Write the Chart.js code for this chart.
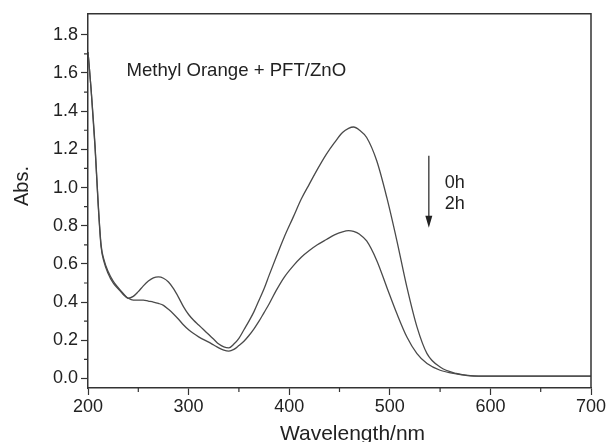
<!DOCTYPE html>
<html>
<head>
<meta charset="utf-8">
<script src="https://cdn.jsdelivr.net/npm/chart.js@4.4.0/dist/chart.umd.min.js"></script>
<style>
  html, body { margin: 0; padding: 0; background: #fff; }
  #wrap { width: 612px; height: 442px; }
</style>
</head>
<body>
<div id="wrap"><canvas id="uvChart"></canvas></div>
<script>
// wavelength grid (nm)
const wavelengths = [200, 203, 207, 210, 213, 216, 220, 225, 230, 235, 240, 245, 250, 255, 260, 265, 270, 275, 280,
  285, 290, 295, 300, 305, 310, 315, 320, 325, 330, 335, 340, 345, 350, 355, 360, 365, 370, 375, 380,
  387, 395, 404, 412, 420, 428, 437, 445, 453, 459, 464, 470, 477, 487, 497, 507, 517, 527, 537, 550,
  566, 580, 600, 650, 700];

// absorbance, 0h
const abs0h = [1.71, 1.52, 1.22, 0.93, 0.7, 0.62, 0.56, 0.51, 0.475, 0.445, 0.42, 0.43, 0.455, 0.485, 0.51, 0.527, 0.532, 0.525, 0.505,
  0.47, 0.425, 0.375, 0.335, 0.305, 0.28, 0.255, 0.23, 0.205, 0.18, 0.165, 0.16, 0.18, 0.21, 0.255, 0.3, 0.35, 0.41, 0.47, 0.54,
  0.635, 0.74, 0.845, 0.94, 1.018, 1.095, 1.175, 1.235, 1.288, 1.31, 1.317, 1.3, 1.262, 1.14, 0.948, 0.722, 0.478, 0.27, 0.13, 0.06,
  0.026, 0.015, 0.012, 0.012, 0.012];

// absorbance, 2h
const abs2h = [1.71, 1.52, 1.21, 0.92, 0.69, 0.61, 0.55, 0.5, 0.47, 0.44, 0.42, 0.41, 0.41, 0.41, 0.405, 0.4, 0.393, 0.383, 0.362,
  0.338, 0.31, 0.28, 0.255, 0.235, 0.218, 0.203, 0.19, 0.175, 0.16, 0.148, 0.143, 0.152, 0.172, 0.195, 0.225, 0.26, 0.3, 0.345, 0.39,
  0.46, 0.53, 0.59, 0.635, 0.67, 0.7, 0.728, 0.752, 0.768, 0.774, 0.77, 0.755, 0.72, 0.618, 0.478, 0.34, 0.217, 0.13, 0.078, 0.043,
  0.024, 0.014, 0.012, 0.012, 0.012];

const xTicks = [200, 300, 400, 500, 600, 700];
const xMinorTicks = [250, 350, 450, 550, 650];
const yTicks = [0.0, 0.2, 0.4, 0.6, 0.8, 1.0, 1.2, 1.4, 1.6, 1.8];
const yMinorTicks = [0.1, 0.3, 0.5, 0.7, 0.9, 1.1, 1.3, 1.5, 1.7];

const FONT = '"Liberation Sans", Arial, sans-serif';
const AXIS = '#333';

function toPoints(ys) {
  return wavelengths.map((x, i) => ({ x: x, y: ys[i] }));
}

// frame, minor ticks, axis titles and annotations
const decorPlugin = {
  id: 'decor',
  afterDraw(chart) {
    const c = chart.ctx;
    const a = chart.chartArea;
    const xs = chart.scales.x;
    const ys = chart.scales.y;
    c.save();
    c.strokeStyle = AXIS;
    c.lineWidth = 1.5;
    c.beginPath();
    c.moveTo(a.left, a.top);
    c.lineTo(a.right, a.top);
    c.lineTo(a.right, a.bottom);
    c.stroke();

    c.lineWidth = 1.2;
    c.beginPath();
    xMinorTicks.forEach(v => {
      const px = xs.getPixelForValue(v);
      c.moveTo(px, a.bottom);
      c.lineTo(px, a.bottom + 4);
    });
    yMinorTicks.forEach(v => {
      const py = ys.getPixelForValue(v);
      c.moveTo(a.left, py);
      c.lineTo(a.left - 4, py);
    });
    c.stroke();

    c.fillStyle = '#222';
    c.font = '21px ' + FONT;
    c.textAlign = 'center';
    c.textBaseline = 'alphabetic';
    c.fillText('Wavelength/nm', (a.left + a.right) / 2 + 13, 440);

    c.save();
    c.translate(28, 186);
    c.rotate(-Math.PI / 2);
    c.font = '20px ' + FONT;
    c.fillText('Abs.', 0, 0);
    c.restore();

    c.font = '18.6px ' + FONT;
    c.textAlign = 'left';
    c.fillText('Methyl Orange + PFT/ZnO', xs.getPixelForValue(238.3), ys.getPixelForValue(1.584));
    c.font = '18px ' + FONT;
    c.fillText('0h', xs.getPixelForValue(554.7), ys.getPixelForValue(1.0));
    c.fillText('2h', xs.getPixelForValue(554.7), ys.getPixelForValue(0.889));

    // arrow
    const ax = xs.getPixelForValue(538.8);
    const ay0 = ys.getPixelForValue(1.166);
    const ay1 = ys.getPixelForValue(0.79);
    c.strokeStyle = '#333';
    c.lineWidth = 1.3;
    c.beginPath();
    c.moveTo(ax, ay0);
    c.lineTo(ax, ay1 - 10);
    c.stroke();
    c.fillStyle = '#222';
    c.beginPath();
    c.moveTo(ax - 3.5, ay1 - 12);
    c.lineTo(ax + 3.5, ay1 - 12);
    c.lineTo(ax, ay1);
    c.closePath();
    c.fill();
    c.restore();
  }
};

const ctx = document.getElementById('uvChart').getContext('2d');

const myChart = new Chart(ctx, {
  type: 'line',
  data: {
    datasets: [
      {
        label: '0h',
        data: toPoints(abs0h),
        borderColor: '#4a4a4a',
        borderWidth: 1.3,
        pointRadius: 0,
        fill: false,
        cubicInterpolationMode: 'monotone'
      },
      {
        label: '2h',
        data: toPoints(abs2h),
        borderColor: '#4a4a4a',
        borderWidth: 1.3,
        pointRadius: 0,
        fill: false,
        cubicInterpolationMode: 'monotone'
      }
    ]
  },
  options: {
    responsive: true,
    maintainAspectRatio: false,
    animation: false,
    layout: { padding: { left: 0, right: 21, top: 12, bottom: 0 } },
    plugins: {
      legend: { display: false },
      tooltip: { enabled: false }
    },
    scales: {
      x: {
        type: 'linear',
        min: 200,
        max: 700,
        afterBuildTicks: scale => { scale.ticks = xTicks.map(v => ({ value: v })); },
        afterFit: scale => { scale.height = 54; },
        ticks: {
          color: '#222',
          font: { family: FONT, size: 18 },
          padding: 1,
          maxRotation: 0
        },
        grid: { drawOnChartArea: false, drawTicks: true, tickLength: 7, tickColor: AXIS, tickWidth: 1.2 },
        border: { display: true, color: AXIS, width: 1.5 }
      },
      y: {
        type: 'linear',
        min: -0.05,
        max: 1.91,
        afterBuildTicks: scale => { scale.ticks = yTicks.map(v => ({ value: v })); },
        afterFit: scale => { scale.width = 88; },
        ticks: {
          color: '#222',
          font: { family: FONT, size: 18 },
          padding: 3,
          callback: v => v.toFixed(1)
        },
        grid: { drawOnChartArea: false, drawTicks: true, tickLength: 7, tickColor: AXIS, tickWidth: 1.2 },
        border: { display: true, color: AXIS, width: 1.5 }
      }
    }
  },
  plugins: [decorPlugin]
});
</script>
</body>
</html>
